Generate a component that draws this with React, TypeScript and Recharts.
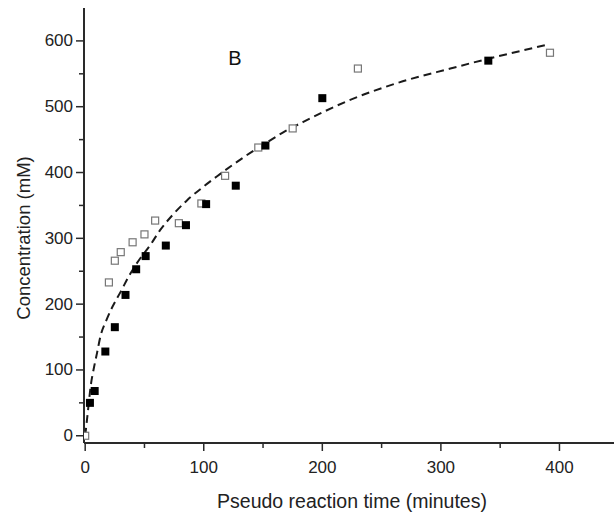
import React from 'react';
import { ComposedChart, XAxis, YAxis, Scatter, Line } from 'recharts';

const openSquares = [
  { x: 0, y: 0 }, { x: 20, y: 233 }, { x: 25, y: 266 }, { x: 30, y: 279 },
  { x: 40, y: 294 }, { x: 50, y: 306 }, { x: 59, y: 327 }, { x: 79, y: 323 },
  { x: 98, y: 353 }, { x: 118, y: 395 }, { x: 146, y: 438 }, { x: 175, y: 467 },
  { x: 230, y: 558 }, { x: 392, y: 582 },
];

const filledSquares = [
  { x: 4, y: 50 }, { x: 8, y: 68 }, { x: 17, y: 128 }, { x: 25, y: 165 },
  { x: 34, y: 214 }, { x: 43, y: 253 }, { x: 51, y: 273 }, { x: 68, y: 289 },
  { x: 85, y: 320 }, { x: 102, y: 352 }, { x: 127, y: 380 }, { x: 152, y: 441 },
  { x: 200, y: 513 }, { x: 340, y: 570 },
];

const fitCurve = [
  { x: 0, y: 0 }, { x: 1.5, y: 24 }, { x: 5, y: 80 }, { x: 7, y: 100 },
  { x: 10, y: 126 }, { x: 13, y: 152 }, { x: 18, y: 176 }, { x: 23, y: 196 },
  { x: 30, y: 219 }, { x: 37, y: 243 }, { x: 45, y: 266 }, { x: 55, y: 290 },
  { x: 63, y: 312 }, { x: 74, y: 336 }, { x: 86, y: 358 }, { x: 98, y: 376 },
  { x: 111, y: 394 }, { x: 124, y: 411 }, { x: 136, y: 426 }, { x: 150, y: 442 },
  { x: 167, y: 461 }, { x: 184, y: 477 }, { x: 223, y: 510 }, { x: 265, y: 537 },
  { x: 308, y: 558 }, { x: 338, y: 572 }, { x: 389, y: 594 },
];

const xTicks = [0, 50, 100, 150, 200, 250, 300, 350, 400];
const yTicks = [0, 50, 100, 150, 200, 250, 300, 350, 400, 450, 500, 550, 600];

const xTitle = 'Pseudo reaction time (minutes)';
const yTitle = 'Concentration (mM)';
const panelLabel = 'B';

const FONT = '"Liberation Sans", Arial, sans-serif';
const AXIS = '#2a2a2a';

const XTick = (props: any) => {
  const { x, y, payload } = props;
  const major = payload.value % 100 === 0;
  return (
    <g>
      <line x1={x} x2={x} y1={y} y2={y + (major ? 8 : 5)} stroke={AXIS} strokeWidth={1.5} />
      {major && (
        <text x={x} y={y + 24} textAnchor="middle" dominantBaseline="central"
          fontFamily={FONT} fontSize={17} fill="#222">{payload.value}</text>
      )}
    </g>
  );
};

const YTick = (props: any) => {
  const { x, y, payload } = props;
  const major = payload.value % 100 === 0;
  return (
    <g>
      <line x1={x} x2={x - (major ? 8 : 5)} y1={y} y2={y} stroke={AXIS} strokeWidth={1.5} />
      {major && (
        <text x={x - 11} y={y} textAnchor="end" dominantBaseline="central"
          fontFamily={FONT} fontSize={17} fill="#222">{payload.value}</text>
      )}
    </g>
  );
};

const FilledSquare = (props: any) => {
  const { cx, cy } = props;
  return <rect x={cx - 4} y={cy - 4} width={8} height={8} fill="#000" />;
};

const OpenSquare = (props: any) => {
  const { cx, cy } = props;
  return <rect x={cx - 3.5} y={cy - 3.5} width={7} height={7} fill="#fff" stroke="#777" strokeWidth={1.2} />;
};

export default function App() {
  return (
    <div style={{ position: 'absolute', left: 0, top: 0, background: '#fff' }}>
      <ComposedChart width={614} height={517} margin={{ top: 8, right: 0, bottom: 0, left: 0 }}>
        <XAxis type="number" dataKey="x" domain={[-1, 446]} ticks={xTicks} allowDataOverflow
          height={74} tickSize={0} tickMargin={0} tick={<XTick />} stroke={AXIS} strokeWidth={2} />
        <YAxis type="number" domain={[-11, 650]} ticks={yTicks} allowDataOverflow
          width={84} tickSize={0} tickMargin={0} tick={<YTick />} stroke={AXIS} strokeWidth={2} />
        <Line data={fitCurve} dataKey="y" type="monotone" stroke="#1a1a1a" strokeWidth={2}
          strokeDasharray="8 5" dot={false} activeDot={false} isAnimationActive={false} />
        <Scatter data={openSquares} dataKey="y" shape={<OpenSquare />} isAnimationActive={false} />
        <Scatter data={filledSquares} dataKey="y" shape={<FilledSquare />} isAnimationActive={false} />
        <text x={352} y={501} textAnchor="middle" dominantBaseline="central"
          fontFamily={FONT} fontSize={19.5} fill="#222">{xTitle}</text>
        <text x={23} y={238} textAnchor="middle" dominantBaseline="central"
          transform="rotate(-90 23 238)" fontFamily={FONT} fontSize={18.5} fill="#222">{yTitle}</text>
        <text x={235} y={58} textAnchor="middle" dominantBaseline="central"
          fontFamily={FONT} fontSize={20} fill="#111">{panelLabel}</text>
      </ComposedChart>
    </div>
  );
}
